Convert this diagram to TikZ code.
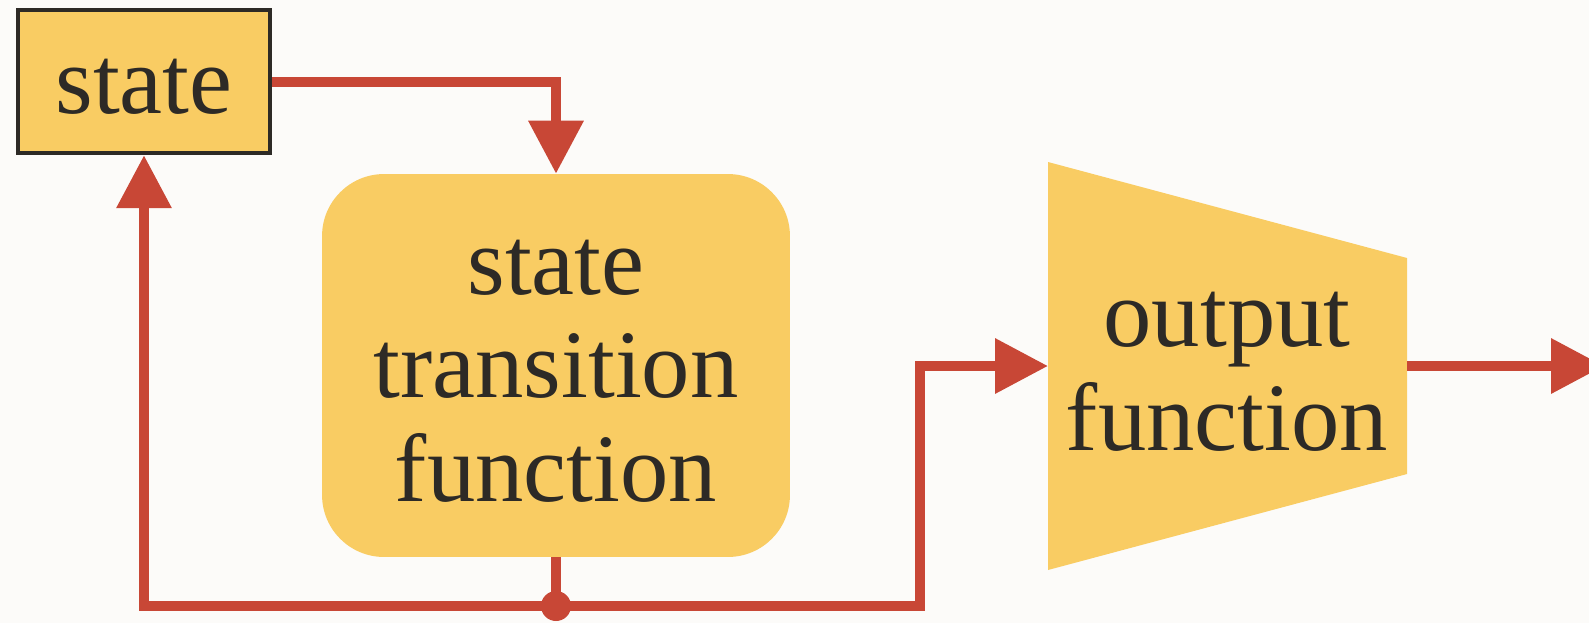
\documentclass[tikz,border=0pt]{standalone}
\usepackage{fontspec}
\setmainfont{Liberation Serif}
\usetikzlibrary{arrows.meta,calc}
\definecolor{bg}{HTML}{FCFBF9}
\definecolor{fillyel}{HTML}{F9CC63}
\definecolor{wirec}{HTML}{C84736}
\definecolor{ink}{HTML}{2D2A26}
\newcommand{\lowerstrut}{\rule{0pt}{37.5pt}}
\begin{document}
\begin{tikzpicture}[x=0.02cm,y=-0.02cm,
  lbl/.style={font=\fontsize{55}{59}\selectfont, text=ink, align=center},
  wire/.style={draw=wirec, line width=0.2cm, line join=miter},
  arr/.style={wire, -{Triangle[length=1.06cm,width=1.06cm]}},
  boxstate/.style={draw=ink, line width=0.09cm, fill=fillyel, minimum width=5.04cm, minimum height=2.86cm, inner sep=0pt},
  boxround/.style={fill=fillyel, minimum width=9.36cm, minimum height=7.66cm, rounded corners=1.24cm, inner sep=0pt}
]
\clip (0,0) rectangle (1589,623);
\fill[bg] (0,0) rectangle (1589,623);
% nodes
\node[boxstate, lbl] (state) at (144,81.5) {\lowerstrut state};
\node[boxround, lbl] (stf) at (556,365.5) {\lowerstrut state\\transition\\function};
\fill[fillyel] (1048,162) -- (1407,258) -- (1407,474) -- (1048,570) -- cycle;
\node[lbl] (out) at (1227,366) {\lowerstrut output\\function};
\coordinate (outL) at (1048,366);
\coordinate (outR) at (1407,366);
\coordinate (outEnd) at (1604,366);
\coordinate (J) at (556,606);
\coordinate (turn) at (920,606);
% connectors
\draw[arr] (state.east) -| (stf.north);
\draw[wire] (stf.south) -- (J);
\draw[arr] (J) -| (state.south);
\draw[arr] (J) -- (turn) |- (outL);
\draw[arr] (outR) -- (outEnd);
\fill[wirec] (J) circle (0.3cm);
\end{tikzpicture}
\end{document}
